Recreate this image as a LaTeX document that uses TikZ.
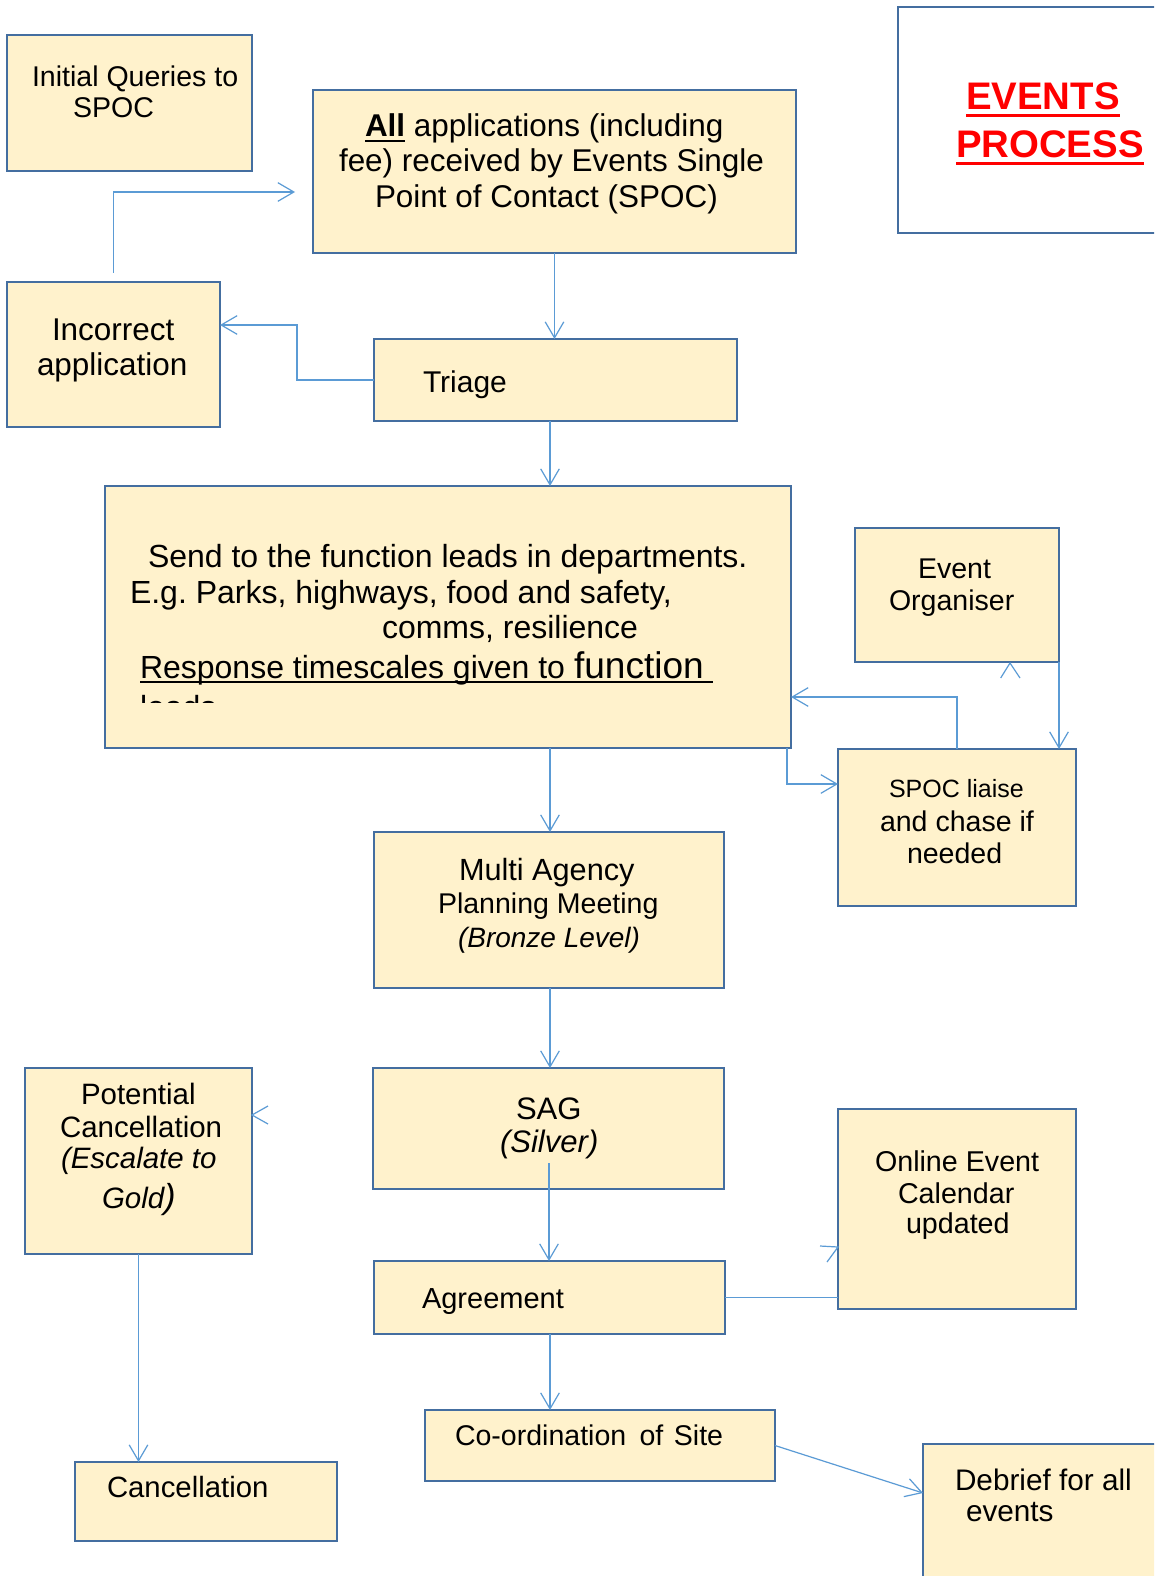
\documentclass[tikz,border=0pt]{standalone}
\usepackage{fontspec}
\setmainfont{Liberation Sans}
\usetikzlibrary{arrows.meta,fit}
\definecolor{boxfill}{RGB}{255,242,204}
\definecolor{boxline}{RGB}{68,110,160}
\definecolor{connc}{RGB}{91,155,213}
\newcommand\fsz[1]{\fontsize{#1}{#1}\selectfont}
\newlength\ulwd
\newcommand\myul[3]{\settowidth\ulwd{#1}\rlap{\rule[-#2]{\ulwd}{#3}}{#1}}
\frenchspacing
\begin{document}
\begin{tikzpicture}[x=0.75pt,y=-0.75pt,
  box/.style={draw=boxline, fill=boxfill, line width=2pt, inner sep=0pt, outer sep=0pt, rectangle},
  wbox/.style={box, fill=white},
  txt/.style={anchor=base west, inner sep=0pt, outer sep=0pt, text=black},
  conn/.style={draw=connc, line width=0.9pt},
  arr/.style={conn, -{Straight Barb[length=12pt,width=14pt]}}]
\fill[white] (0,0) rectangle (1154,1576);
\clip (0,0) rectangle (1154,1576);
% boxes
\node[box, fit={(7,35) (252,171)}] (iq) {};
\node[box, fit={(313,90) (796,253)}] (all) {};
\node[wbox, fit={(898,7) (1165,233)}] (title) {};
\node[box, fit={(7,282) (220,427)}] (inc) {};
\node[box, fit={(374,339) (737,421)}] (tri) {};
\node[box, fit={(105,486) (791,748)}] (send) {};
\node[box, fit={(855,528) (1059,662)}] (eo) {};
\node[box, fit={(838,749) (1076,906)}] (spoc) {};
\node[box, fit={(374,832) (724,988)}] (multi) {};
\node[box, fit={(25,1068) (252,1254)}] (pot) {};
\node[box, fit={(373,1068) (724,1189)}] (sag) {};
\node[box, fit={(838,1109) (1076,1309)}] (online) {};
\node[box, fit={(374,1261) (725,1334)}] (agr) {};
\node[box, fit={(425,1410) (775,1481)}] (coord) {};
\node[box, fit={(75,1462) (337,1541)}] (canc) {};
\node[box, fit={(923,1444) (1170,1600)}] (deb) {};
% coordinates
\coordinate (colx) at (550,0);
\coordinate (tbend) at (297,325);
\coordinate (iqa) at (295,192);
\coordinate (sy) at (0,697);
\coordinate (sx) at (787,784);
\coordinate (sagin) at (549,1163);
\coordinate (debin) at (923,1493);
\coordinate (eotip) at (1010,663);
\coordinate (ontip) at (838,1247);
\coordinate (pottip) at (252,1115);
% connectors
\draw[arr] (all.south) -- (all.south |- tri.north);
\draw[arr] (tri.west) -| (tbend) -- (tbend -| inc.east);
\draw[arr] ([yshift=6.75pt]inc.north) |- (iqa);
\draw[arr] (tri.south -| colx) -- (send.north -| colx);
\draw[arr] (spoc.north) |- (sy -| send.east);
\draw[arr] (eo.south east) -- (eo.south east |- spoc.north);
\draw[conn] ([xshift=-7pt,yshift=-11.25pt]eotip) -- (eotip) -- ([xshift=7.5pt,yshift=-11.25pt]eotip);
\draw[arr] (send.south -| sx) |- (sx -| spoc.west);
\draw[arr] (send.south -| colx) -- (multi.north -| colx);
\draw[arr] (multi.south -| colx) -- (sag.north -| colx);
\draw[arr] (sagin) -- (sagin |- agr.north);
\draw[conn] (agr.east) -- (agr.east -| online.west);
\draw[conn] ([xshift=-13.5pt,yshift=0.75pt]ontip) -- (ontip) -- ([xshift=-8.25pt,yshift=-11.25pt]ontip);
\draw[arr] (agr.south -| colx) -- (coord.north -| colx);
\draw[arr] (coord.east) -- (debin);
\draw[conn] ([xshift=12pt,yshift=6.75pt]pottip) -- (pottip) -- ([xshift=12pt,yshift=-6.75pt]pottip);
\draw[arr] (pot.south) -- (pot.south |- canc.north);
% texts
\node[txt, font=\fsz{21.4pt}] (iqt1) at (32,87) {Initial Queries to};
\node[txt, font=\fsz{21.4pt}] (iqt2) at (73,118) {SPOC};
\node[txt, font=\fsz{23.6pt}] (allt1) at (365,137) {\myul{\bfseries All}{3.75pt}{1.5pt} applications (including};
\node[txt, font=\fsz{23.6pt}] (allt2) at (339,172) {fee) received by Events Single};
\node[txt, font=\fsz{23.6pt}] (allt3) at (375,208) {Point of Contact (SPOC)};
\node[txt, font=\fsz{28.8pt}\bfseries, text=red] (tt1) at (966,110) {\myul{EVENTS}{5.5pt}{2.6pt}};
\node[txt, font=\fsz{28.8pt}\bfseries, text=red] (tt2) at (956,158) {\myul{PROCESS}{5.5pt}{2.6pt}};
\node[txt, font=\fsz{23.6pt}] (inct1) at (52,340) {Incorrect};
\node[txt, font=\fsz{23.6pt}] (inct2) at (37,375) {application};
\node[txt, font=\fsz{22.5pt}] (trit) at (423,392) {Triage};
\node[txt, font=\fsz{24pt}] (sendt1) at (148,567) {Send to the function leads in departments.};
\node[txt, font=\fsz{24pt}] (sendt2) at (130,603) {E.g. Parks, highways, food and safety,};
\node[txt, font=\fsz{24pt}] (sendt3) at (382,638) {comms, resilience};
\node[txt, font=\fsz{24pt}] (sendt4) at (140,678) {\myul{Response timescales given to {\fsz{27.8pt}function}\ }{3.75pt}{1.4pt}};
\begin{scope}
\clip (100,600) rectangle (800,702);
\node[txt, font=\fsz{24pt}] (sendt5) at (140,718) {leads};
\end{scope}
\node[txt, font=\fsz{21.4pt}] (eot1) at (918,578) {Event};
\node[txt, font=\fsz{21.4pt}] (eot2) at (889,610) {Organiser};
\node[txt, font=\fsz{18.75pt}] (spt1) at (889,797) {SPOC liaise};
\node[txt, font=\fsz{21.4pt}] (spt2) at (880,831) {and chase if};
\node[txt, font=\fsz{21.4pt}] (spt3) at (907,863) {needed};
\node[txt, font=\fsz{23pt}] (mt1) at (459,880) {Multi Agency};
\node[txt, font=\fsz{21.4pt}] (mt2) at (438,913) {Planning Meeting};
\node[txt, font=\fsz{21pt}\itshape] (mt3) at (458,947) {(Bronze Level)};
\node[txt, font=\fsz{23.3pt}] (sagt1) at (516,1119) {SAG};
\node[txt, font=\fsz{23.3pt}\itshape] (sagt2) at (500,1152) {(Silver)};
\node[txt, font=\fsz{22.1pt}] (pt1) at (81,1104) {Potential};
\node[txt, font=\fsz{22.1pt}] (pt2) at (60,1137) {Cancellation};
\node[txt, font=\fsz{22.1pt}\itshape] (pt3) at (61,1168) {(Escalate to};
\node[txt, font=\fsz{22.1pt}\itshape] (pt4) at (102,1208) {Gold{\fsz{26pt})}};
\node[txt, font=\fsz{21.5pt}] (ont1) at (875,1171) {Online Event};
\node[txt, font=\fsz{21.5pt}] (ont2) at (898,1203) {Calendar};
\node[txt, font=\fsz{21.5pt}] (ont3) at (906,1233) {updated};
\node[txt, font=\fsz{21.75pt}] (agrt) at (422,1308) {Agreement};
\node[txt, font=\fsz{21.4pt}] (coordt) at (455,1445) {Co-ordination\hspace{4pt} of\hspace{2pt} Site};
\node[txt, font=\fsz{22.3pt}] (debt1) at (955,1490) {Debrief for all};
\node[txt, font=\fsz{22.3pt}] (debt2) at (966,1521) {events};
\node[txt, font=\fsz{22pt}] (canct) at (107,1497) {Cancellation};
\end{tikzpicture}
\end{document}
